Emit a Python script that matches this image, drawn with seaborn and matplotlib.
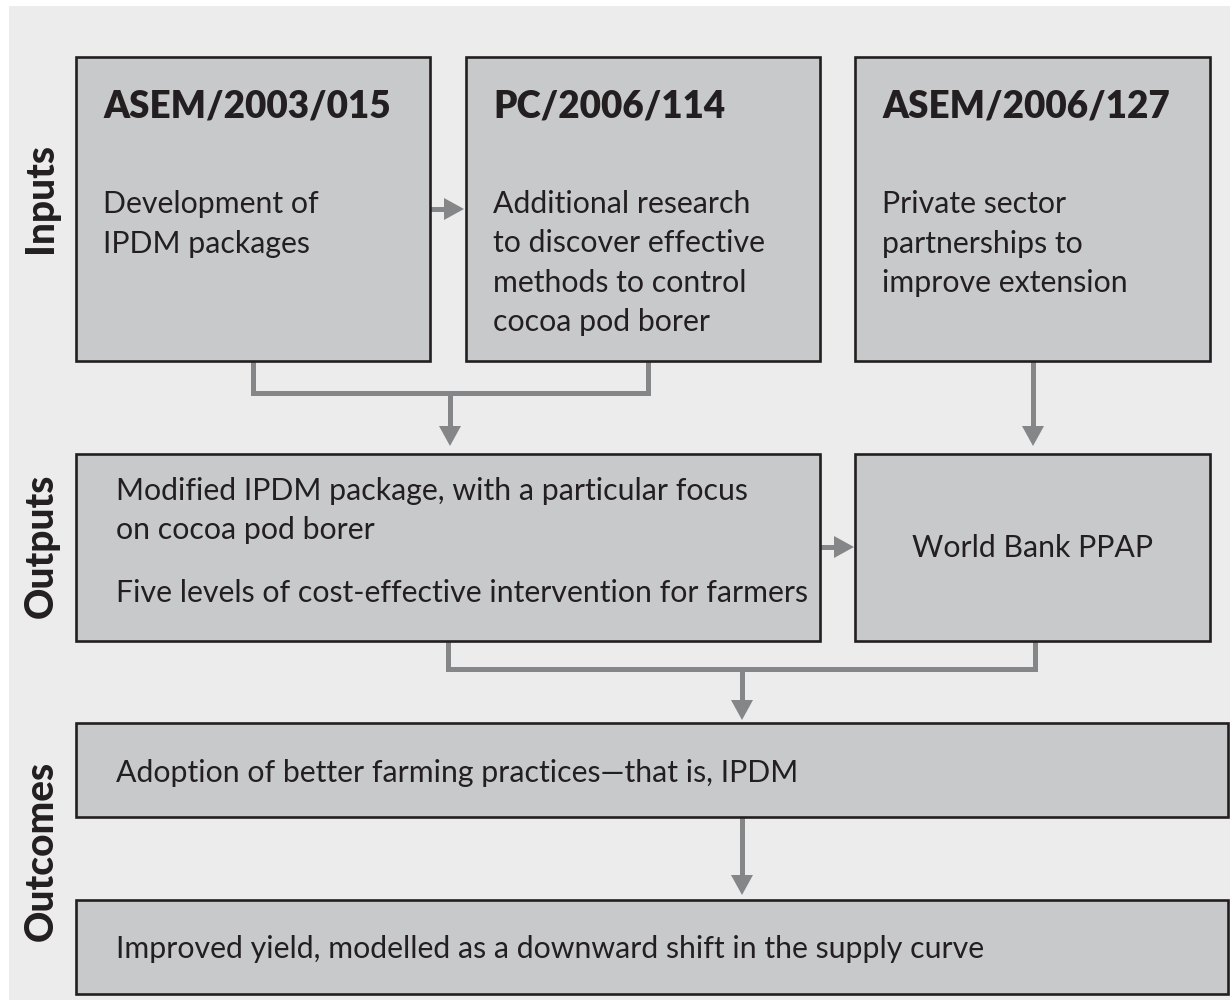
import matplotlib
matplotlib.use("Agg")
import matplotlib.pyplot as plt
import seaborn as sns
from matplotlib.patches import Rectangle, Polygon

# Text content of the diagram
row_labels = ["Inputs", "Outputs", "Outcomes"]
input_titles = ["ASEM/2003/015", "PC/2006/114", "ASEM/2006/127"]
input_lines = [
    ["Development of", "IPDM packages"],
    ["Additional research", "to discover effective", "methods to control", "cocoa pod borer"],
    ["Private sector", "partnerships to", "improve extension"],
]
output_lines = [
    "Modified IPDM package, with a particular focus",
    "on cocoa pod borer",
    "Five levels of cost-effective intervention for farmers",
]
output_side = "World Bank PPAP"
outcome_lines = [
    "Adoption of better farming practices\u2014that is, IPDM",
    "Improved yield, modelled as a downward shift in the supply curve",
]

# Layout (pixel space, y down)
W, H = 1230, 1000
input_boxes = [(76, 57, 430, 361), (466, 57, 820, 361), (855, 57, 1210, 361)]
output_boxes = [(76, 454, 820, 641), (855, 454, 1210, 641)]
outcome_boxes = [(76, 723, 1228, 817), (76, 900, 1228, 994)]
label_y = [198, 546, 851]

BG = "#ececec"
FILL = "#c8c9cb"
EDGE = "#231f20"
LINE = "#858688"
TXT = "#231f20"

sns.set_theme(style="white")
plt.rcParams["font.family"] = ["Lato", "DejaVu Sans"]

fig = plt.figure(figsize=(W / 100, H / 100), dpi=100)
fig.patch.set_facecolor("white")
ax = fig.add_axes([0, 0, 1, 1])
ax.set_xlim(0, W)
ax.set_ylim(H, 0)
ax.axis("off")

ax.add_patch(Rectangle((9, 6), W - 9, H - 6, facecolor=BG, edgecolor="none", zorder=0))


def box(b):
    x0, y0, x1, y1 = b
    ax.add_patch(Rectangle((x0, y0), x1 - x0, y1 - y0, facecolor=FILL,
                           edgecolor=EDGE, linewidth=1.9, zorder=2))


def seg(pts):
    xs, ys = zip(*pts)
    ax.plot(xs, ys, color=LINE, lw=3.6, solid_capstyle="butt",
            solid_joinstyle="miter", zorder=1)


def arrow(x0, y0, x1, y1, hl=20, hw=11):
    # shaft then triangular head
    if x0 == x1:
        d = 1 if y1 > y0 else -1
        seg([(x0, y0), (x1, y1 - d * hl)])
        head = [(x1 - hw, y1 - d * hl), (x1 + hw, y1 - d * hl), (x1, y1)]
    else:
        d = 1 if x1 > x0 else -1
        seg([(x0, y0), (x1 - d * hl, y1)])
        head = [(x1 - d * hl, y1 - hw), (x1 - d * hl, y1 + hw), (x1, y1)]
    ax.add_patch(Polygon(head, closed=True, facecolor=LINE, edgecolor="none", zorder=1))


for b in input_boxes + output_boxes + outcome_boxes:
    box(b)

# connectors
arrow(430, 209, 464, 209)
seg([(253, 361), (253, 393), (648, 393), (648, 361)])
arrow(450, 393, 450, 446)
arrow(1033, 361, 1033, 446)
arrow(820, 547, 854, 547)
seg([(448, 641), (448, 669), (1035, 669), (1035, 641)])
arrow(742, 669, 742, 720)
arrow(742, 817, 742, 895)

# row labels
for lab, y in zip(row_labels, label_y):
    ax.text(41, y, lab, rotation=90, ha="center", va="center",
            fontsize=28, fontweight=900, color=TXT)

# input boxes
body_fs = 21.8
for (x0, y0, x1, y1), title, lines in zip(input_boxes, input_titles, input_lines):
    ax.text(x0 + 27, 118, title, ha="left", va="baseline", fontsize=26.5,
            fontweight=800, color=TXT, zorder=3)
    for i, ln in enumerate(lines):
        ax.text(x0 + 27, 213 + 39.5 * i, ln, ha="left", va="baseline",
                fontsize=body_fs, color=TXT, zorder=3)

# output boxes
for ln, y in zip(output_lines, [500, 539, 602]):
    ax.text(116, y, ln, ha="left", va="baseline", fontsize=body_fs, color=TXT, zorder=3)
ax.text(1033, 557, output_side, ha="center", va="baseline", fontsize=body_fs,
        color=TXT, zorder=3)

# outcome boxes
for ln, y in zip(outcome_lines, [782, 958]):
    ax.text(116, y, ln, ha="left", va="baseline", fontsize=body_fs, color=TXT, zorder=3)

fig.savefig("out.png", dpi=100, facecolor=fig.get_facecolor())
